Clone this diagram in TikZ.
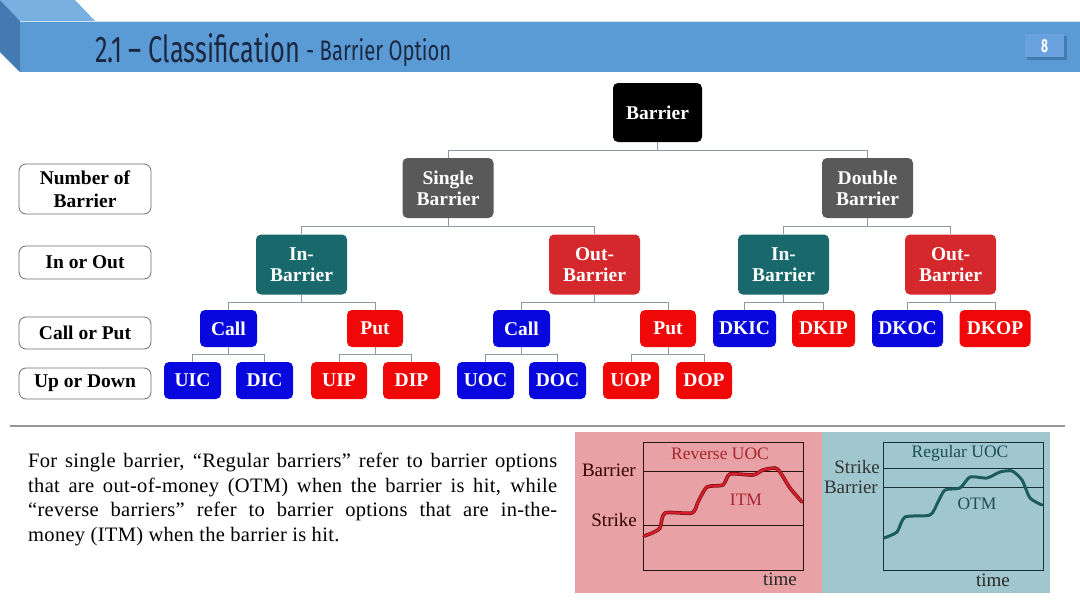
\documentclass[tikz,border=0pt]{standalone}
\usepackage{fontspec}
\setmainfont{Liberation Serif}
\setsansfont{Fira Sans}
\usepackage{graphicx}
\definecolor{band}{RGB}{91,155,213}
\definecolor{bandlight}{RGB}{120,176,226}
\definecolor{banddark}{RGB}{68,122,178}
\definecolor{pgbox}{RGB}{105,162,222}
\definecolor{titlec}{RGB}{28,40,66}
\definecolor{tealc}{RGB}{24,104,108}
\definecolor{redd}{RGB}{212,40,44}
\definecolor{redp}{RGB}{240,8,8}
\definecolor{bluec}{RGB}{8,8,222}
\definecolor{grayc}{RGB}{89,89,89}
\definecolor{connc}{RGB}{140,152,164}
\definecolor{lblborder}{RGB}{110,110,110}
\definecolor{sepc}{RGB}{150,150,150}
\definecolor{pinkbg}{RGB}{232,161,164}
\definecolor{tealbg}{RGB}{161,199,206}
\definecolor{redtxt}{RGB}{165,38,48}
\definecolor{tealtxt}{RGB}{28,78,88}
\definecolor{redcurve}{RGB}{214,28,40}
\definecolor{redshadow}{RGB}{120,20,25}
\definecolor{tealcurve}{RGB}{28,92,92}
\definecolor{laxis}{RGB}{40,20,20}
\definecolor{raxis}{RGB}{25,50,55}
\begin{document}
\begin{tikzpicture}[x=1pt,y=-1pt,
  tbox/.style={rounded corners=5pt, text=white, align=center, inner sep=0pt,
    font=\bfseries\fontsize{19.5}{21}\selectfont},
  big/.style={tbox, minimum width=91pt, minimum height=60pt},
  small/.style={tbox, minimum width=57pt, minimum height=37pt},
  lbl/.style={draw=lblborder, line width=0.8pt, fill=white,
    rounded corners=7pt, minimum width=132pt, align=center, inner sep=0pt,
    font=\bfseries\fontsize{19.5}{23}\selectfont},
  conn/.style={draw=connc, line width=0.9pt},
  chartlbl/.style={font=\fontsize{19}{20}\selectfont, inner sep=0pt},
  charttitle/.style={font=\fontsize{17.5}{18}\selectfont, inner sep=0pt}
]
\useasboundingbox (0,0) rectangle (1080,608);
\fill[white] (0,0) rectangle (1080,608);
% header
\fill[bandlight] (0,0) -- (75,0) -- (95,21) -- (20,21) -- cycle;
\fill[band] (20,21) rectangle (1080,72);
\fill[banddark] (0,0) -- (20,21) -- (20,72) -- (0,52) -- cycle;
\draw[white!70!band, line width=1pt] (20,21.5) -- (1080,21.5);
\node[anchor=base west, inner sep=0pt, text=titlec] (title) at (95,62)
  {\resizebox{205pt}{29pt}{\sffamily 2.1 -- Classification}};
\node[anchor=base west, inner sep=0pt, text=titlec] (subtitle) at (306,60)
  {\resizebox{145pt}{22pt}{\sffamily - Barrier Option}};
\fill[banddark] (1027,36) rectangle (1067,60);
\fill[pgbox] (1025,34) rectangle (1064,57);
\node[text=white, font=\sffamily\bfseries\fontsize{15}{15}\selectfont, inner sep=0pt] (pg) at (1044.5,46) {\resizebox{7pt}{13pt}{8}};
% tree
\node[big, fill=black, minimum width=89pt, minimum height=59pt] (bar) at (657.5,112.5) {Barrier};
\node[big, fill=grayc] (sb) at (448,188) {Single\\Barrier};
\node[big, fill=grayc] (db) at (867.5,188) {Double\\Barrier};
\node[big, fill=tealc] (ib1) at (301.5,264.5) {In-\\Barrier};
\node[big, fill=redd] (ob1) at (594.5,264.5) {Out-\\Barrier};
\node[big, fill=tealc] (ib2) at (783.5,264.5) {In-\\Barrier};
\node[big, fill=redd] (ob2) at (950.5,264.5) {Out-\\Barrier};
\node[small, fill=bluec] (c1) at (228.5,328.5) {Call};
\node[small, fill=redp, minimum width=56pt] (p1) at (375,328.5) {Put};
\node[small, fill=bluec] (c2) at (521.5,328.5) {Call};
\node[small, fill=redp, minimum width=56pt] (p2) at (668,328.5) {Put};
\node[small, fill=bluec, minimum width=63pt] (dkic) at (744.5,328.5) {DKIC};
\node[small, fill=redp, minimum width=63pt] (dkip) at (823.5,328.5) {DKIP};
\node[small, fill=bluec, minimum width=71pt] (dkoc) at (907.5,328.5) {DKOC};
\node[small, fill=redp, minimum width=71pt] (dkop) at (995,328.5) {DKOP};
\node[small, fill=bluec] (uic) at (192.5,380.5) {UIC};
\node[small, fill=bluec] (dic) at (264.5,380.5) {DIC};
\node[small, fill=redp, minimum width=56pt] (uip) at (339,380.5) {UIP};
\node[small, fill=redp] (dip) at (411.5,380.5) {DIP};
\node[small, fill=bluec] (uoc) at (485.5,380.5) {UOC};
\node[small, fill=bluec] (doc) at (557.5,380.5) {DOC};
\node[small, fill=redp, minimum width=56pt] (uop) at (631,380.5) {UOP};
\node[small, fill=redp, minimum width=56pt] (dop) at (704,380.5) {DOP};
% connectors
\draw[conn] (bar.south) -- ++(0,8) -| (sb.north);
\draw[conn] (bar.south) -- ++(0,8) -| (db.north);
\draw[conn] (sb.south) -- ++(0,8) -| (ib1.north);
\draw[conn] (sb.south) -- ++(0,8) -| (ob1.north);
\draw[conn] (db.south) -- ++(0,8) -| (ib2.north);
\draw[conn] (db.south) -- ++(0,8) -| (ob2.north);
\draw[conn] (ib1.south) -- ++(0,7.5) -| (c1.north);
\draw[conn] (ib1.south) -- ++(0,7.5) -| (p1.north);
\draw[conn] (ob1.south) -- ++(0,7.5) -| (c2.north);
\draw[conn] (ob1.south) -- ++(0,7.5) -| (p2.north);
\draw[conn] (ib2.south) -- ++(0,7.5) -| (dkic.north);
\draw[conn] (ib2.south) -- ++(0,7.5) -| (dkip.north);
\draw[conn] (ob2.south) -- ++(0,7.5) -| (dkoc.north);
\draw[conn] (ob2.south) -- ++(0,7.5) -| (dkop.north);
\draw[conn] (c1.south) -- ++(0,7.5) -| (uic.north);
\draw[conn] (c1.south) -- ++(0,7.5) -| (dic.north);
\draw[conn] (p1.south) -- ++(0,7.5) -| (uip.north);
\draw[conn] (p1.south) -- ++(0,7.5) -| (dip.north);
\draw[conn] (c2.south) -- ++(0,7.5) -| (uoc.north);
\draw[conn] (c2.south) -- ++(0,7.5) -| (doc.north);
\draw[conn] (p2.south) -- ++(0,7.5) -| (uop.north);
\draw[conn] (p2.south) -- ++(0,7.5) -| (dop.north);
% left labels
\node[lbl, minimum height=50pt] (l1) at (85,189) {Number of\\Barrier};
\node[lbl, minimum height=33pt] (l2) at (85,262.5) {In or Out};
\node[lbl, minimum height=32pt] (l3) at (85,333) {Call or Put};
\node[lbl, minimum height=31pt] (l4) at (85,383.5) {Up or Down};
% separator
\draw[sepc, line width=1.5pt] (10,426) -- (1065,426);
% paragraph
\node[anchor=north west, text width=529pt, align=justify, inner sep=0pt,
  font=\fontsize{20.5}{24.5}\selectfont\addfontfeature{LetterSpace=1.5}] (para) at (28,453)
  {For single barrier, “Regular barriers” refer to barrier options\linebreak
   that are out-of-money (OTM) when the barrier is hit, while\linebreak
   “reverse barriers” refer to barrier options that are in-the-\linebreak
   money (ITM) when the barrier is hit.};
% left chart
\fill[pinkbg] (575,432) rectangle (822,593);
\draw[laxis, line width=0.8pt] (643,442) rectangle (803,570);
\draw[laxis, line width=0.8pt] (643,471) -- (803,471);
\draw[laxis, line width=0.8pt] (643,525) -- (803,525);
\node[chartlbl, anchor=east, text=black!80!red] (lb) at (636,470) {Barrier};
\node[chartlbl, anchor=east, text=black!80!red] (ls) at (637,520) {Strike};
\node[charttitle, text=redtxt] (rev) at (720,454) {Reverse UOC};
\node[charttitle, text=redtxt] (itm) at (746,500) {ITM};
\node[chartlbl, text=black!85] (lt) at (780,579) {time};
\draw[redshadow, line width=3.6pt, line join=round, line cap=round]
  plot[smooth, tension=0.4] coordinates {(644,536) (652,533) (660,528) (665,513) (692,513) (698,502) (707,487) (723,485) (730,474) (753,475) (763,470) (775,468) (780,472) (790,488) (802,502)};
\draw[redcurve, line width=2.2pt, line join=round, line cap=round]
  plot[smooth, tension=0.4] coordinates {(644,536) (652,533) (660,528) (665,513) (692,513) (698,502) (707,487) (723,485) (730,474) (753,475) (763,470) (775,468) (780,472) (790,488) (802,502)};
% right chart
\fill[tealbg] (822,432) rectangle (1050,593);
\draw[raxis, line width=0.8pt] (883,442) rectangle (1043,570);
\draw[raxis, line width=0.8pt] (883,468) -- (1043,468);
\draw[raxis, line width=0.8pt] (883,487) -- (1043,487);
\node[chartlbl, anchor=east, text=black!80] (rs) at (880,467) {Strike};
\node[chartlbl, anchor=east, text=black!80] (rb) at (878,487) {Barrier};
\node[charttitle, text=tealtxt] (reg) at (960,453) {Regular UOC};
\node[charttitle, text=tealtxt] (otm) at (977,504) {OTM};
\node[chartlbl, text=black!85] (rt) at (993,580) {time};
\draw[tealcurve, line width=3pt, line join=round, line cap=round]
  plot[smooth, tension=0.4] coordinates {(884,538) (897,532) (905,517) (930,515) (938,502) (945,490) (960,488) (970,477) (987,478) (1000,472) (1012,471) (1022,480) (1030,498) (1042,505)};
\end{tikzpicture}
\end{document}
